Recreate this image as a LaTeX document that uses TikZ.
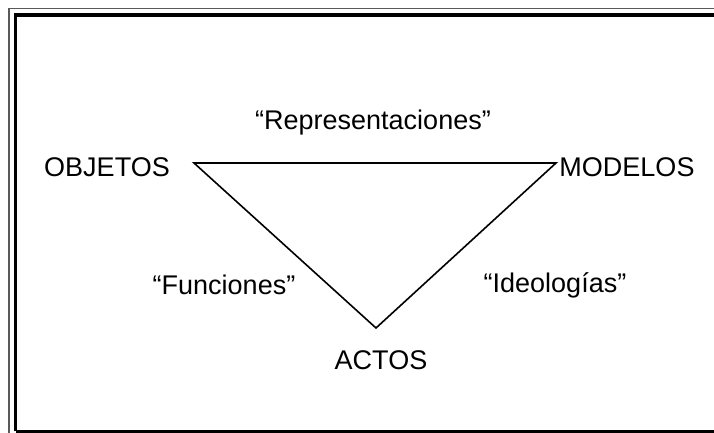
\documentclass[tikz,border=0pt]{standalone}
\usepackage{fontspec}
\setmainfont{Liberation Sans}

\begin{document}
\begin{tikzpicture}[x=0.5pt,y=-0.5pt,
    lbl/.style={inner sep=0pt,font=\fontsize{13.5}{16}\selectfont},
    edge/.style={line width=0.8pt,line join=miter}]
      \useasboundingbox (0,0) rectangle (714,433) ;
      % frame
      \draw[gray!70!black,line width=0.7pt] (9,440) -- (9,8.5) -- (720,8.5) ;
      \draw[line width=1.6pt] (15.5,431.5) -- (15.5,15) -- (720,15) ;
      \draw[line width=1.6pt] (15.5,431.5) -- (720,431.5) ;
      % corners of the triangle
      \coordinate (obj) at (194,163) ;
      \coordinate (mod) at (556,163) ;
      \coordinate (act) at (376,328) ;
      \draw[edge] (obj) -- (mod) -- (act) -- cycle ;
      % labels
      \node[lbl] (OBJ) at (107,167) {OBJETOS} ;
      \node[lbl] (MOD) at (627,167) {MODELOS} ;
      \node[lbl] (ACT) at (381,360) {ACTOS} ;
      \node[lbl] (rep) at (373,123) {“Representaciones”} ;
      \node[lbl] (fun) at (224,285) {“Funciones”} ;
      \node[lbl] (ide) at (555,285) {“Ideologías”} ;
\end{tikzpicture}
\end{document}
